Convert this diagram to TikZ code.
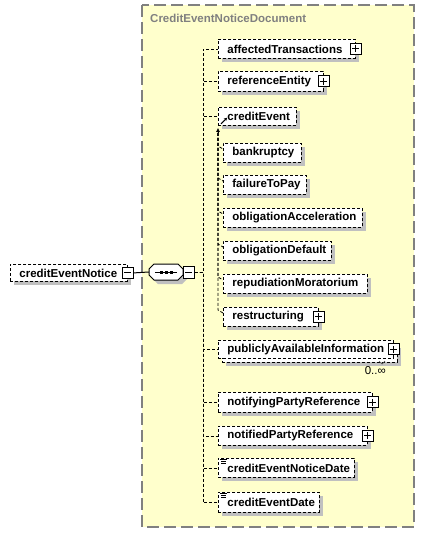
\documentclass[tikz,border=0pt]{standalone}
\usepackage{fontspec}
\setmainfont{Liberation Sans}
\usetikzlibrary{shadows,arrows.meta,calc}
\definecolor{grpbg}{RGB}{255,255,204}
\definecolor{grpline}{RGB}{128,128,128}
\definecolor{shad}{RGB}{192,192,192}
\begin{document}
\begin{tikzpicture}[x=1pt,y=-1pt,
  lbl/.style={font=\fontsize{11.5}{13}\selectfont\bfseries},
  elembase/.style={lbl, draw=black, line width=0.8pt, dash pattern=on 3pt off 2pt, fill=white,
    anchor=north west, inner xsep=9pt, inner ysep=0pt, align=left,
    execute at begin node={\hyphenpenalty=10000\relax\exhyphenpenalty=10000\relax}},
  elem/.style={elembase, drop shadow={shadow xshift=4pt, shadow yshift=-4pt, fill=shad, opacity=1}},
  plusbox/.style={draw=black, fill=white, line width=1pt, minimum size=11pt, inner sep=0pt,
    path picture={\draw[line width=0.9pt] ([xshift=2pt]path picture bounding box.west) -- ([xshift=-2pt]path picture bounding box.east);
                  \draw[line width=0.9pt] ([yshift=-2pt]path picture bounding box.north) -- ([yshift=2pt]path picture bounding box.south);}},
  minusbox/.style={draw=black, fill=white, line width=1pt, minimum size=11pt, inner sep=0pt,
    path picture={\draw[line width=0.9pt] ([xshift=2pt]path picture bounding box.west) -- ([xshift=-2pt]path picture bounding box.east);}},
  conn/.style={draw=black, line width=0.8pt, dash pattern=on 3pt off 2pt},
  simpleicon/.style={line width=0.7pt}
]
\useasboundingbox (0,0) rectangle (425,533);
% group
\draw[fill=grpbg, draw=grpline, line width=1.5pt, dash pattern=on 12pt off 5pt] (142,5) rectangle (414,527);
\node[anchor=west, text=grpline, lbl, inner sep=2pt] (title) at (148,18) {CreditEventNoticeDocument};

% root element
\node[elem, text width=99pt, minimum height=17pt] (cen) at (10,264) {creditEventNotice};
\node[minusbox] (cenm) at (cen.east) {};

% sequence compositor
\fill[shad] (158,268) -- (182,268) -- (187,273) -- (187,279) -- (182,284) -- (158,284) -- (153,279) -- (153,273) -- cycle;
\draw[fill=white, line width=1pt] (154,264) -- (178,264) -- (183,269) -- (183,275) -- (178,280) -- (154,280) -- (149,275) -- (149,269) -- cycle;
\node[minimum width=34pt, minimum height=16pt, inner sep=0pt] (seq) at (166,272) {};
\draw[line width=1pt] (155,272) -- (177,272);
\fill (159.5,270.5) rectangle ++(3,3);
\fill (164.5,270.5) rectangle ++(3,3);
\fill (169.5,270.5) rectangle ++(3,3);
\node[minusbox, minimum width=11pt, minimum height=12pt] (seqm) at (188.5,272) {};
\draw[line width=1pt] (cenm.east) -- (seq.west);

% children
\node[elem, text width=119pt, minimum height=19pt] (aff) at (218,39) {affectedTransactions};
\node[plusbox] (affp) at (aff.east) {};
\node[elem, text width=87pt, minimum height=20pt] (ref) at (218,71) {referenceEntity};
\node[plusbox] (refp) at (ref.east) {};
\node[elem, text width=60pt, minimum height=18pt] (ce) at (218,107) {creditEvent};
\draw[line width=1.1pt, -{Stealth[length=3pt,width=3.5pt]}] ($(ce.south west)+(3,-2)$) -- ++(6,-6);

\node[elem, text width=60pt, minimum height=19pt] (bank) at (223,143) {bankruptcy};
\node[elem, text width=65pt, minimum height=19pt] (fail) at (223,175) {failureToPay};
\node[elem, text width=121pt, minimum height=19pt] (oacc) at (223,208) {obligationAcceleration};
\node[elem, text width=90pt, minimum height=19pt] (odef) at (223,241) {obligationDefault};
\node[elem, text width=126pt, minimum height=19pt] (rep) at (223,274) {repudiationMoratorium};
\node[elem, text width=77pt, minimum height=19pt] (restr) at (223,307) {restructuring};
\node[plusbox] (restrp) at (restr.east) {};

\node[elem, text width=157pt, minimum height=18pt] (paiback) at (222,344) {\phantom{publiclyAvailableInformation}};
\node[elembase, text width=157pt, minimum height=18pt] (pai) at (218,340) {publiclyAvailableInformation};
\node[plusbox] (paip) at (pai.east) {};
\draw[line width=0.7pt, black!70] (379,361) -- (382,364) -- (385,361);
\node[font=\fontsize{11.5}{13}\selectfont, anchor=north east, inner sep=0pt] (paimult) at (386,366) {0..∞};

\node[elem, text width=136pt, minimum height=20pt] (nfy) at (218,392) {notifyingPartyReference};
\node[plusbox] (nfyp) at (nfy.east) {};
\node[elem, text width=131pt, minimum height=19pt] (nfd) at (218,426) {notifiedPartyReference};
\node[plusbox] (nfdp) at (nfd.east) {};
\node[elem, text width=118pt, minimum height=19pt] (cend) at (218,458) {creditEventNoticeDate};
\draw[simpleicon] (220,459.5) -- (227,459.5) (221,461.5) -- (226,461.5) (221,463.5) -- (226,463.5);
\node[elem, text width=83pt, minimum height=20pt] (ced) at (218,492) {creditEventDate};
\draw[simpleicon] (220,493.5) -- (227,493.5) (221,495.5) -- (226,495.5) (221,497.5) -- (226,497.5);

% sequence connectors
\foreach \c in {aff,ref,ce,pai,nfy,nfd,cend,ced}{
  \draw[conn] (seqm.east) -- ++(8.5,0) |- (\c.west);
}

% substitution group connectors
\coordinate (subtop) at ($(ce.south west)+(0,2)$);
\draw[-{Latex[length=4pt,width=4pt]}, line width=0.8pt] ($(subtop)+(0,5)$) -- (subtop);
\foreach \m in {bank,fail,oacc,odef,rep,restr}{
  \draw[conn] ($(subtop)+(0,5)$) -- ($(\m.north west)+(-5,3)$) -- ($(\m.north west)+(0,6)$);
}
\end{tikzpicture}
\end{document}
